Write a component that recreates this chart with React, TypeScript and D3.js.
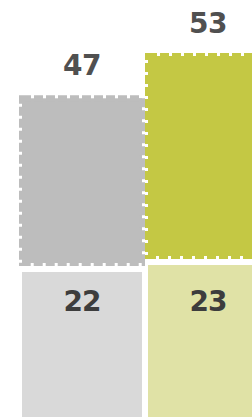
import React from 'react';
import * as d3 from 'd3';

const categories = ['Group A', 'Group B'];
const bottomValues = [22, 23];
const topValues = [47, 53];

const topColors = ['#bdbdbd', '#c4c844'];
const bottomColors = ['#d9d9d9', '#e0e2a6'];

const W = 252;
const H = 417;

const App: React.FC = () => {
    const x = d3.scaleBand<string>()
        .domain(categories)
        .range([22, 268])
        .paddingInner(6 / 126)
        .paddingOuter(0);

    // boundary between the two segments
    const yBase = d3.scaleLinear().domain([0, 23]).range([421.5, 260.5]);
    // height of upper segment (axis does not start at zero)
    const hTop = d3.scaleLinear().domain([19, 53]).range([0, 200]);

    const gap = 4.5;
    const font = '"DejaVu Sans", Verdana, sans-serif';

    return (
        <svg width={W} height={H} style={{ position: 'absolute', left: 0, top: 0, display: 'block' }}>
            {categories.map((c, i) => {
                const bx = x(c) ?? 0;
                const bw = x.bandwidth();
                const boundary = yBase(bottomValues[i]);
                const topBottom = boundary - gap;
                const topY = topBottom - hTop(topValues[i]);
                const botY = boundary + gap;
                return (
                    <g key={c}>
                        <rect x={bx} y={botY} width={bw} height={yBase(0) - botY} fill={bottomColors[i]} />
                        <rect
                            x={bx}
                            y={topY}
                            width={bw}
                            height={topBottom - topY}
                            fill={topColors[i]}
                            stroke={topColors[i]}
                            strokeWidth={6}
                            strokeDasharray="9 3"
                        />
                        <text
                            x={bx + bw / 2}
                            y={topY - 23}
                            textAnchor="middle"
                            fontFamily={font}
                            fontWeight="bold"
                            fontSize={28}
                            letterSpacing={-0.5}
                            fill="#505050"
                        >
                            {topValues[i]}
                        </text>
                        <text
                            x={bx + bw / 2}
                            y={311}
                            textAnchor="middle"
                            fontFamily={font}
                            fontWeight="bold"
                            fontSize={28}
                            letterSpacing={-1}
                            fill="#3d3d3d"
                        >
                            {bottomValues[i]}
                        </text>
                    </g>
                );
            })}
        </svg>
    );
};

export default App;
